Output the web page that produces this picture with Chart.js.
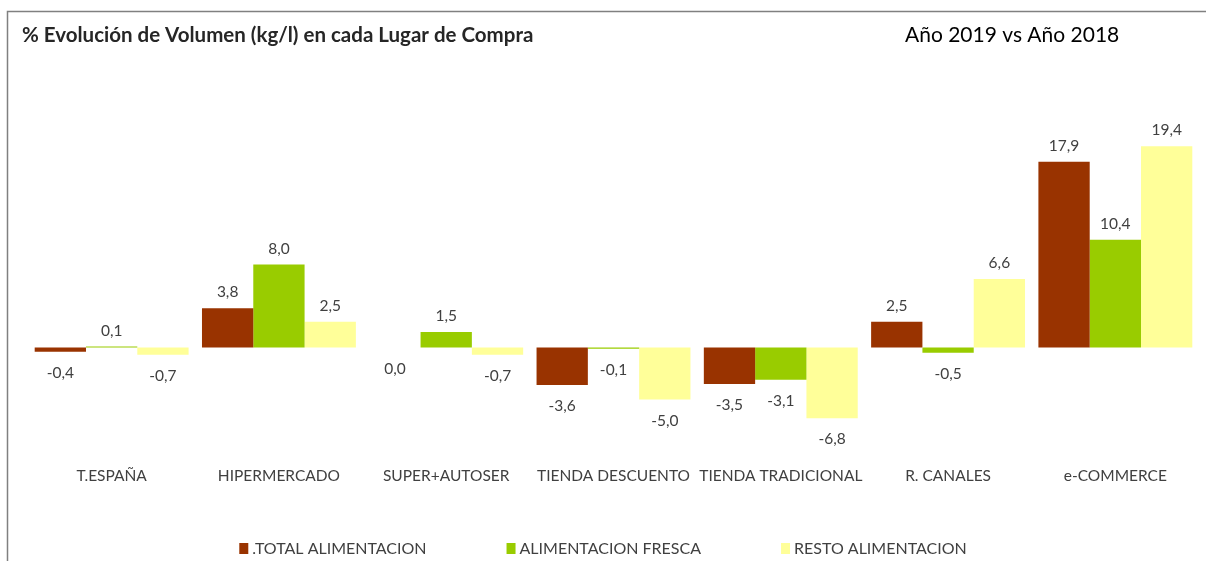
<!DOCTYPE html>
<html>
<head>
<meta charset="utf-8">
<script src="https://cdn.jsdelivr.net/npm/chart.js@4/dist/chart.umd.min.js"></script>
<style>
  html, body { margin: 0; padding: 0; background: #fff; }
  #wrap { position: relative; width: 1206px; height: 561px; }
</style>
</head>
<body>
<div id="wrap"><canvas id="chart" width="1206" height="561"></canvas></div>
<script>
// Datos
const categorias = ['T.ESPAÑA', 'HIPERMERCADO', 'SUPER+AUTOSER', 'TIENDA DESCUENTO', 'TIENDA TRADICIONAL', 'R. CANALES', 'e-COMMERCE'];
const totalAlimentacion = [-0.4, 3.8, 0.0, -3.6, -3.5, 2.5, 17.9];
const alimentacionFresca = [0.1, 8.0, 1.5, -0.1, -3.1, -0.5, 10.4];
const restoAlimentacion = [-0.7, 2.5, -0.7, -5.0, -6.8, 6.6, 19.4];
const titulo = '% Evolución de Volumen (kg/l) en cada Lugar de Compra';
const subtitulo = 'Año 2019 vs Año 2018';

const FONT = 'Lato, "Open Sans", sans-serif';
const GRIS = '#404040';

// Borde, títulos, etiquetas de valor y leyenda
const decor = {
    id: 'decor',
    beforeDraw(chart) {
        const ctx = chart.ctx;
        ctx.save();
        ctx.fillStyle = '#fff';
        ctx.fillRect(0, 0, chart.width, chart.height);
        ctx.strokeStyle = '#808080';
        ctx.lineWidth = 1.5;
        ctx.beginPath();
        ctx.moveTo(7.5, chart.height);
        ctx.lineTo(7.5, 11.5);
        ctx.lineTo(chart.width, 11.5);
        ctx.stroke();
        ctx.restore();
    },
    afterDatasetsDraw(chart) {
        const ctx = chart.ctx;
        ctx.save();
        ctx.font = '15.5px ' + FONT;
        ctx.fillStyle = GRIS;
        ctx.textAlign = 'center';
        ctx.textBaseline = 'middle';
        chart.data.datasets.forEach((ds, di) => {
            const meta = chart.getDatasetMeta(di);
            meta.data.forEach((bar, i) => {
                const v = ds.data[i];
                const txt = v.toFixed(1).replace('.', ',');
                if (v > 0) {
                    ctx.fillText(txt, bar.x, bar.y - 16);
                } else {
                    ctx.fillText(txt, bar.x, Math.max(bar.y, bar.base) + 21);
                }
            });
        });
        ctx.restore();
    },
    afterDraw(chart) {
        const ctx = chart.ctx;
        ctx.save();
        ctx.textBaseline = 'middle';
        ctx.fillStyle = '#262626';
        ctx.font = 'bold 20.5px ' + FONT;
        ctx.textAlign = 'left';
        ctx.fillText(titulo, 22, 35);
        ctx.fillStyle = '#000';
        ctx.font = '21px ' + FONT;
        ctx.fillText(subtitulo, 905, 35);

        // Leyenda
        ctx.font = '16px ' + FONT;
        const items = chart.data.datasets.map(ds => ({
            text: ds.label,
            color: ds.backgroundColor,
            w: 9 + 4 + ctx.measureText(ds.label).width
        }));
        const gap = 80;
        const total = items.reduce((s, it) => s + it.w, 0) + gap * (items.length - 1);
        let x = chart.width / 2 - total / 2;
        const y = 549;
        items.forEach(it => {
            ctx.fillStyle = it.color;
            ctx.fillRect(x, y - 6, 9, 11);
            ctx.fillStyle = GRIS;
            ctx.fillText(it.text, x + 13, y);
            x += it.w + gap;
        });
        ctx.restore();
    }
};

const ctx = document.getElementById('chart').getContext('2d');
new Chart(ctx, {
    type: 'bar',
    data: {
        labels: categorias,
        datasets: [
            {
                label: '.TOTAL ALIMENTACION',
                data: totalAlimentacion,
                backgroundColor: '#993300',
                barPercentage: 1,
                categoryPercentage: 0.92
            },
            {
                label: 'ALIMENTACION FRESCA',
                data: alimentacionFresca,
                backgroundColor: '#99CC00',
                barPercentage: 1,
                categoryPercentage: 0.92
            },
            {
                label: 'RESTO ALIMENTACION',
                data: restoAlimentacion,
                backgroundColor: '#FFFF99',
                barPercentage: 1,
                categoryPercentage: 0.92
            }
        ]
    },
    options: {
        responsive: false,
        animation: false,
        layout: {
            padding: { top: 140, bottom: 69, left: 28, right: 7 }
        },
        plugins: {
            legend: { display: false },
            title: { display: false },
            tooltip: { enabled: false }
        },
        scales: {
            y: {
                display: false,
                min: -10,
                max: 20
            },
            x: {
                grid: { display: false },
                border: { display: false },
                ticks: {
                    padding: 7,
                    color: GRIS,
                    font: { family: FONT, size: 15.5 },
                    maxRotation: 0,
                    autoSkip: false
                }
            }
        }
    },
    plugins: [decor]
});
</script>
</body>
</html>
